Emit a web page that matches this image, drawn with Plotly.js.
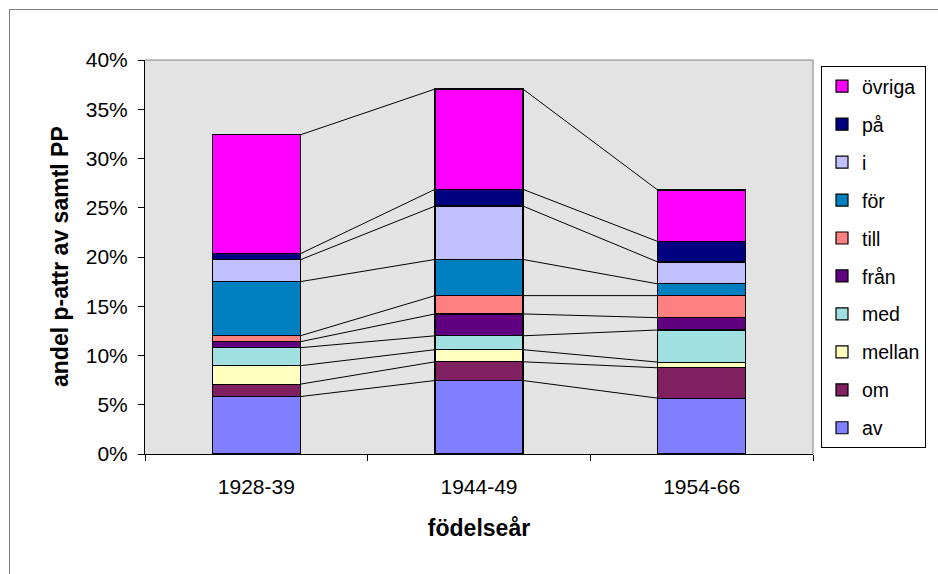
<!DOCTYPE html>
<html>
<head>
<meta charset="utf-8">
<script src="https://cdn.plot.ly/plotly-3.0.1.min.js"></script>
<style>
html,body{margin:0;padding:0;background:#fff;}
#wrap{position:relative;width:938px;height:574px;}
#chart{width:938px;height:574px;}
#frame{position:absolute;left:9px;top:9px;width:940px;height:580px;border-left:1px solid #808080;border-top:1px solid #808080;pointer-events:none;}
</style>
</head>
<body>
<div id="wrap"><div id="chart"></div><div id="frame"></div></div>
<script>
const categories = ['1928-39', '1944-49', '1954-66'];
const seriesNames = ['av', 'om', 'mellan', 'med', 'från', 'till', 'för', 'i', 'på', 'övriga'];
const av     = [5.83, 7.46, 5.67];
const om     = [1.26, 1.90, 3.08];
const mellan = [1.87, 1.23, 0.58];
const med    = [1.83, 1.41, 3.26];
const fran   = [0.61, 2.22, 1.25];
const till   = [0.60, 1.86, 2.24];
const forr   = [5.50, 3.67, 1.19];
const iVals  = [2.22, 5.42, 2.23];
const pa     = [0.61, 1.70, 2.08];
const ovriga = [12.07, 10.18, 5.22];
const seriesValues = [av, om, mellan, med, fran, till, forr, iVals, pa, ovriga];
const colors = ['#8080FF', '#802060', '#FFFFC0', '#A0E0E0', '#600080', '#FF8080', '#0080C0', '#C0C0FF', '#000080', '#FF00FF'];
const yTicks = [0, 5, 10, 15, 20, 25, 30, 35, 40];

const barWidth = 0.395;
const xIdx = categories.map((c, i) => i);
const traces = [];
seriesNames.forEach((name, k) => {
  traces.push({
    type: 'bar', name: name, x: xIdx, y: seriesValues[k], width: barWidth,
    legendgroup: name, legendrank: 1000 - k,
    marker: {color: colors[k], line: {color: '#000', width: 1.2}},
    hoverinfo: 'name+y'
  });
});
// series lines connecting the tops of each segment
const cum = categories.map(() => 0);
const lineX = [], lineY = [];
seriesNames.forEach((name, k) => {
  categories.forEach((c, i) => { cum[i] += seriesValues[k][i]; });
  for (let i = 0; i < categories.length - 1; i++) {
    lineX.push(i + barWidth / 2, i + 1 - barWidth / 2, null);
    lineY.push(cum[i], cum[i + 1], null);
  }
});
traces.push({
  type: 'scatter', mode: 'lines', x: lineX, y: lineY, showlegend: false,
  line: {color: '#000', width: 1}, hoverinfo: 'skip'
});

const ML = 145, MR = 125, MT = 60, MB = 120;
const plotW = 938 - ML - MR, plotH = 574 - MT - MB;

const layout = {
  width: 938, height: 574,
  margin: {l: ML, r: MR, t: MT, b: MB},
  paper_bgcolor: '#fff', plot_bgcolor: '#E3E3E3',
  barmode: 'stack',
  font: {family: 'Liberation Sans, Arial, sans-serif', size: 21, color: '#000'},
  showlegend: true,
  legend: {
    traceorder: 'grouped', tracegroupgap: 9.6, itemwidth: 30,
    xref: 'paper', yref: 'paper',
    x: (821 - ML) / plotW, y: 1 - (66 - MT) / plotH,
    xanchor: 'left', yanchor: 'top',
    bgcolor: '#fff', bordercolor: '#000', borderwidth: 1,
    font: {size: 19.5}
  },
  xaxis: {
    range: [-0.5, 2.5], tickmode: 'array', tickvals: xIdx, ticktext: categories,
    ticks: '', showgrid: false, zeroline: false,
    showline: true, linecolor: '#000', linewidth: 1,
    ticklabelstandoff: 14,
    minor: {tickmode: 'array', tickvals: [-0.5, 0.5, 1.5, 2.5], ticks: 'outside', ticklen: 6, tickcolor: '#000', tickwidth: 1, showgrid: false},
    title: {text: '<b>födelseår</b>', font: {size: 23}, standoff: 22}
  },
  yaxis: {
    range: [0, 40], tickmode: 'array', tickvals: yTicks, ticktext: yTicks.map(v => v + '%'),
    ticks: 'outside', ticklen: 6, tickcolor: '#000', showgrid: false, zeroline: false,
    showline: true, linecolor: '#000', linewidth: 1,
    ticklabelstandoff: 6,
    title: {text: ''}
  },
  annotations: [
    {text: '<b>andel p-attr av samtl PP</b>', xref: 'paper', yref: 'paper',
     x: (60 - ML) / plotW, y: 0.5, xanchor: 'center', yanchor: 'middle',
     textangle: -90, showarrow: false, font: {size: 23}}
  ],
  shapes: [
    {type: 'line', xref: 'paper', yref: 'paper', x0: 0, x1: 1, y0: 1, y1: 1, line: {color: '#808080', width: 1}},
    {type: 'line', xref: 'paper', yref: 'paper', x0: 1, x1: 1, y0: 0, y1: 1, line: {color: '#808080', width: 1}}
  ]
};

Plotly.newPlot('chart', traces, layout, {displayModeBar: false, staticPlot: true});
</script>
</body>
</html>
